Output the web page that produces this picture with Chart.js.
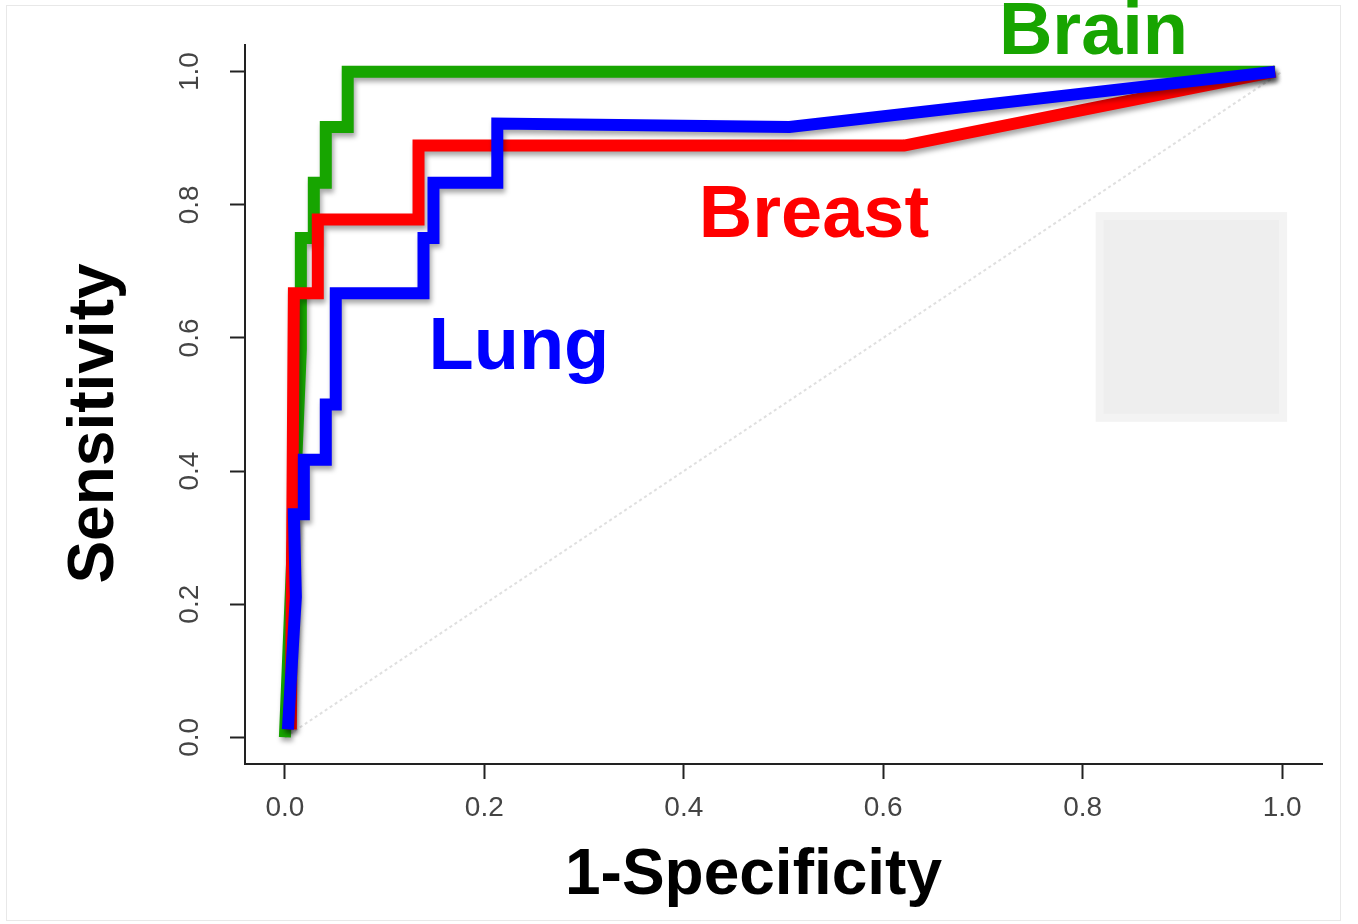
<!DOCTYPE html>
<html>
<head>
<meta charset="utf-8">
<title>ROC curves</title>
<script src="https://cdn.jsdelivr.net/npm/chart.js@4.4.1/dist/chart.umd.min.js"></script>
<style>
  html, body { margin: 0; background: #fff; }
  #wrap { position: relative; width: 1358px; height: 924px; }
  #frame { position: absolute; left: 6px; top: 5px; width: 1333px; height: 914px; border: 1px solid #e8e8e8; }
  #rocChart { position: absolute; left: 0; top: 0; }
</style>
</head>
<body>
<div id="wrap">
  <div id="frame"></div>
  <canvas id="rocChart" width="1358" height="924"></canvas>
</div>
<script>
// ROC points: false positive rate (1-specificity) vs sensitivity
const lungFpr   = [0.003, 0.011, 0.009, 0.019, 0.019, 0.041, 0.041, 0.051, 0.051, 0.139, 0.139, 0.149, 0.149, 0.213, 0.213, 0.506, 0.993];
const lungTpr   = [0.012, 0.211, 0.335, 0.335, 0.417, 0.417, 0.500, 0.500, 0.667, 0.667, 0.750, 0.750, 0.833, 0.833, 0.922, 0.917, 1.000];
const breastFpr = [0.006, 0.009, 0.033, 0.033, 0.134, 0.134, 0.621, 0.993];
const breastTpr = [0.012, 0.667, 0.667, 0.778, 0.778, 0.889, 0.889, 1.000];
const brainFpr  = [0.000, 0.016, 0.016, 0.029, 0.029, 0.041, 0.041, 0.063, 0.063, 0.993];
const brainTpr  = [0.000, 0.583, 0.750, 0.750, 0.833, 0.833, 0.917, 0.917, 1.000, 1.000];
const chanceFpr = [0, 1];
const chanceTpr = [0, 1];

const seriesNames = ['Lung', 'Breast', 'Brain'];
const tickValues = [0, 0.2, 0.4, 0.6, 0.8, 1.0];
const xTitle = '1-Specificity';
const yTitle = 'Sensitivity';

// empty legend box left on the plot (data units)
const boxFpr = [0.813, 1.005];
const boxTpr = [0.474, 0.789];

const colors = { Lung: '#0000ff', Breast: '#ff0000', Brain: '#17a500' };
// where each curve name sits (left edge / baseline, in data units)
const labelSpots = { Lung: [0.144, 0.553], Breast: [0.415, 0.751], Brain: [0.716, 1.027] };

const FONT = '"Liberation Sans", Arial, Helvetica, sans-serif';
const toPoints = (xs, ys) => xs.map((v, i) => ({ x: v, y: ys[i] }));

const rocSet = (name, xs, ys) => ({
    label: name,
    data: toPoints(xs, ys),
    borderColor: colors[name],
    borderWidth: 12,
    borderJoinStyle: 'miter',
    borderCapStyle: 'butt',
    pointRadius: 0,
    showLine: true,
    tension: 0
});

const datasets = [
    rocSet('Lung', lungFpr, lungTpr),
    rocSet('Breast', breastFpr, breastTpr),
    rocSet('Brain', brainFpr, brainTpr),
    {
        label: 'chance',
        data: toPoints(chanceFpr, chanceTpr),
        borderColor: 'rgba(185,185,185,0.45)',
        borderWidth: 2,
        borderDash: [3, 3],
        pointRadius: 0,
        showLine: true
    }
];

// soft drop shadow under the three ROC curves
const lineShadow = {
    id: 'lineShadow',
    beforeDatasetDraw(chart, args) {
        if (args.index > 2) return;
        const ctx = chart.ctx;
        ctx.save();
        ctx.shadowColor = 'rgba(0,0,0,0.35)';
        ctx.shadowBlur = 5;
        ctx.shadowOffsetX = 2;
        ctx.shadowOffsetY = 4;
    },
    afterDatasetDraw(chart, args) {
        if (args.index > 2) return;
        chart.ctx.restore();
    }
};

const greyBox = {
    id: 'greyBox',
    beforeDatasetsDraw(chart) {
        const { ctx, scales: { x, y } } = chart;
        const x0 = x.getPixelForValue(boxFpr[0]), x1 = x.getPixelForValue(boxFpr[1]);
        const y0 = y.getPixelForValue(boxTpr[1]), y1 = y.getPixelForValue(boxTpr[0]);
        ctx.save();
        ctx.fillStyle = '#f3f3f3';
        ctx.fillRect(x0, y0, x1 - x0, y1 - y0);
        ctx.fillStyle = '#eeeeee';
        ctx.fillRect(x0 + 8, y0 + 8, x1 - x0 - 16, y1 - y0 - 16);
        ctx.restore();
    }
};

const curveLabels = {
    id: 'curveLabels',
    afterDatasetsDraw(chart) {
        const { ctx, scales: { x, y } } = chart;
        ctx.save();
        ctx.font = 'bold 74px ' + FONT;
        ctx.textAlign = 'left';
        ctx.textBaseline = 'alphabetic';
        seriesNames.forEach(name => {
            const [fx, fy] = labelSpots[name];
            ctx.fillStyle = colors[name];
            ctx.fillText(name, x.getPixelForValue(fx), y.getPixelForValue(fy));
        });
        ctx.restore();
    }
};

const axisTitles = {
    id: 'axisTitles',
    afterDraw(chart) {
        const { ctx, chartArea: a } = chart;
        ctx.save();
        ctx.fillStyle = '#000';
        ctx.font = 'bold 64px ' + FONT;
        ctx.textAlign = 'center';
        ctx.textBaseline = 'alphabetic';
        ctx.fillText(xTitle, (a.left + a.right) / 2 - 30, 894);
        ctx.translate(113, (a.top + a.bottom) / 2 + 19);
        ctx.rotate(-Math.PI / 2);
        ctx.fillText(yTitle, 0, 0);
        ctx.restore();
    }
};

const fixedTicks = scale => { scale.ticks = tickValues.map(v => ({ value: v })); };

new Chart(document.getElementById('rocChart'), {
    type: 'scatter',
    data: { datasets },
    options: {
        responsive: false,
        animation: false,
        layout: { padding: { top: 45, right: 36, left: 0, bottom: 0 } },
        plugins: { legend: { display: false }, tooltip: { enabled: false } },
        scales: {
            x: {
                type: 'linear',
                min: -0.04,
                max: 1.04,
                afterBuildTicks: fixedTicks,
                afterFit: s => { s.height = 160; },
                border: { display: true, color: '#222', width: 2 },
                grid: { drawOnChartArea: false, drawTicks: true, tickLength: 15, tickColor: '#222', tickWidth: 2 },
                ticks: {
                    padding: 12,
                    maxRotation: 0,
                    color: '#444',
                    font: { family: FONT, size: 28 },
                    callback: v => v.toFixed(1)
                }
            },
            y: {
                type: 'linear',
                min: -0.04,
                max: 1.04,
                afterBuildTicks: fixedTicks,
                afterFit: s => { s.width = 245; },
                border: { display: true, color: '#222', width: 2 },
                grid: { drawOnChartArea: false, drawTicks: true, tickLength: 15, tickColor: '#222', tickWidth: 2 },
                ticks: {
                    padding: 20,
                    minRotation: 90,
                    maxRotation: 90,
                    crossAlign: 'center',
                    color: '#444',
                    font: { family: FONT, size: 28 },
                    callback: v => v.toFixed(1)
                }
            }
        }
    },
    plugins: [greyBox, lineShadow, curveLabels, axisTitles]
});
</script>
</body>
</html>
